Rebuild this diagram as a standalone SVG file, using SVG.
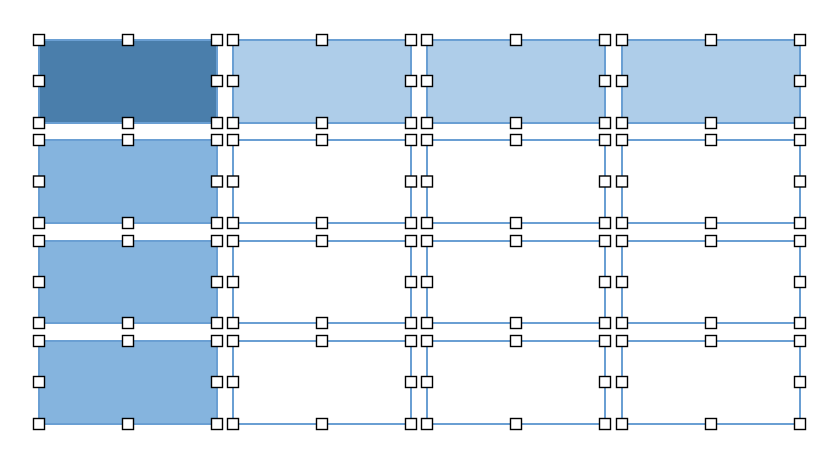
<svg xmlns="http://www.w3.org/2000/svg" width="836" height="460" viewBox="0 0 836 460">
<defs>
<style>
.c{stroke:#6a9fd3;stroke-width:2;fill:#ffffff}
.d{fill:#4a7eab}
.m{fill:#85b4de}
.l{fill:#aecde9}
.h{fill:#ffffff;stroke:#000000;stroke-width:1.4}
</style>
<g id="hs">
<rect class="h" x="-5.5" y="-5.5" width="11" height="11"/>
</g>
</defs>
<rect width="836" height="460" fill="#ffffff"/>
<g id="cells">
<g id="r0c0"><rect class="c d" x="39" y="40" width="178" height="83"/></g>
<g id="r0c1"><rect class="c l" x="233" y="40" width="178" height="83"/></g>
<g id="r0c2"><rect class="c l" x="427" y="40" width="178" height="83"/></g>
<g id="r0c3"><rect class="c l" x="622" y="40" width="178" height="83"/></g>
<g id="r1c0"><rect class="c m" x="39" y="140" width="178" height="83"/></g>
<g id="r1c1"><rect class="c" x="233" y="140" width="178" height="83"/></g>
<g id="r1c2"><rect class="c" x="427" y="140" width="178" height="83"/></g>
<g id="r1c3"><rect class="c" x="622" y="140" width="178" height="83"/></g>
<g id="r2c0"><rect class="c m" x="39" y="241" width="178" height="82"/></g>
<g id="r2c1"><rect class="c" x="233" y="241" width="178" height="82"/></g>
<g id="r2c2"><rect class="c" x="427" y="241" width="178" height="82"/></g>
<g id="r2c3"><rect class="c" x="622" y="241" width="178" height="82"/></g>
<g id="r3c0"><rect class="c m" x="39" y="341" width="178" height="83"/></g>
<g id="r3c1"><rect class="c" x="233" y="341" width="178" height="83"/></g>
<g id="r3c2"><rect class="c" x="427" y="341" width="178" height="83"/></g>
<g id="r3c3"><rect class="c" x="622" y="341" width="178" height="83"/></g>
</g>
<g id="handles">
<!-- row 0 -->
<use href="#hs" x="39" y="40"/><use href="#hs" x="128" y="40"/><use href="#hs" x="217" y="40"/>
<use href="#hs" x="39" y="81"/><use href="#hs" x="217" y="81"/>
<use href="#hs" x="39" y="123"/><use href="#hs" x="128" y="123"/><use href="#hs" x="217" y="123"/>
<use href="#hs" x="233" y="40"/><use href="#hs" x="322" y="40"/><use href="#hs" x="411" y="40"/>
<use href="#hs" x="233" y="81"/><use href="#hs" x="411" y="81"/>
<use href="#hs" x="233" y="123"/><use href="#hs" x="322" y="123"/><use href="#hs" x="411" y="123"/>
<use href="#hs" x="427" y="40"/><use href="#hs" x="516" y="40"/><use href="#hs" x="605" y="40"/>
<use href="#hs" x="427" y="81"/><use href="#hs" x="605" y="81"/>
<use href="#hs" x="427" y="123"/><use href="#hs" x="516" y="123"/><use href="#hs" x="605" y="123"/>
<use href="#hs" x="622" y="40"/><use href="#hs" x="711" y="40"/><use href="#hs" x="800" y="40"/>
<use href="#hs" x="622" y="81"/><use href="#hs" x="800" y="81"/>
<use href="#hs" x="622" y="123"/><use href="#hs" x="711" y="123"/><use href="#hs" x="800" y="123"/>
<!-- row 1 -->
<use href="#hs" x="39" y="140"/><use href="#hs" x="128" y="140"/><use href="#hs" x="217" y="140"/>
<use href="#hs" x="39" y="181.5"/><use href="#hs" x="217" y="181.5"/>
<use href="#hs" x="39" y="223"/><use href="#hs" x="128" y="223"/><use href="#hs" x="217" y="223"/>
<use href="#hs" x="233" y="140"/><use href="#hs" x="322" y="140"/><use href="#hs" x="411" y="140"/>
<use href="#hs" x="233" y="181.5"/><use href="#hs" x="411" y="181.5"/>
<use href="#hs" x="233" y="223"/><use href="#hs" x="322" y="223"/><use href="#hs" x="411" y="223"/>
<use href="#hs" x="427" y="140"/><use href="#hs" x="516" y="140"/><use href="#hs" x="605" y="140"/>
<use href="#hs" x="427" y="181.5"/><use href="#hs" x="605" y="181.5"/>
<use href="#hs" x="427" y="223"/><use href="#hs" x="516" y="223"/><use href="#hs" x="605" y="223"/>
<use href="#hs" x="622" y="140"/><use href="#hs" x="711" y="140"/><use href="#hs" x="800" y="140"/>
<use href="#hs" x="622" y="181.5"/><use href="#hs" x="800" y="181.5"/>
<use href="#hs" x="622" y="223"/><use href="#hs" x="711" y="223"/><use href="#hs" x="800" y="223"/>
<!-- row 2 -->
<use href="#hs" x="39" y="241"/><use href="#hs" x="128" y="241"/><use href="#hs" x="217" y="241"/>
<use href="#hs" x="39" y="282"/><use href="#hs" x="217" y="282"/>
<use href="#hs" x="39" y="323"/><use href="#hs" x="128" y="323"/><use href="#hs" x="217" y="323"/>
<use href="#hs" x="233" y="241"/><use href="#hs" x="322" y="241"/><use href="#hs" x="411" y="241"/>
<use href="#hs" x="233" y="282"/><use href="#hs" x="411" y="282"/>
<use href="#hs" x="233" y="323"/><use href="#hs" x="322" y="323"/><use href="#hs" x="411" y="323"/>
<use href="#hs" x="427" y="241"/><use href="#hs" x="516" y="241"/><use href="#hs" x="605" y="241"/>
<use href="#hs" x="427" y="282"/><use href="#hs" x="605" y="282"/>
<use href="#hs" x="427" y="323"/><use href="#hs" x="516" y="323"/><use href="#hs" x="605" y="323"/>
<use href="#hs" x="622" y="241"/><use href="#hs" x="711" y="241"/><use href="#hs" x="800" y="241"/>
<use href="#hs" x="622" y="282"/><use href="#hs" x="800" y="282"/>
<use href="#hs" x="622" y="323"/><use href="#hs" x="711" y="323"/><use href="#hs" x="800" y="323"/>
<!-- row 3 -->
<use href="#hs" x="39" y="341"/><use href="#hs" x="128" y="341"/><use href="#hs" x="217" y="341"/>
<use href="#hs" x="39" y="382"/><use href="#hs" x="217" y="382"/>
<use href="#hs" x="39" y="424"/><use href="#hs" x="128" y="424"/><use href="#hs" x="217" y="424"/>
<use href="#hs" x="233" y="341"/><use href="#hs" x="322" y="341"/><use href="#hs" x="411" y="341"/>
<use href="#hs" x="233" y="382"/><use href="#hs" x="411" y="382"/>
<use href="#hs" x="233" y="424"/><use href="#hs" x="322" y="424"/><use href="#hs" x="411" y="424"/>
<use href="#hs" x="427" y="341"/><use href="#hs" x="516" y="341"/><use href="#hs" x="605" y="341"/>
<use href="#hs" x="427" y="382"/><use href="#hs" x="605" y="382"/>
<use href="#hs" x="427" y="424"/><use href="#hs" x="516" y="424"/><use href="#hs" x="605" y="424"/>
<use href="#hs" x="622" y="341"/><use href="#hs" x="711" y="341"/><use href="#hs" x="800" y="341"/>
<use href="#hs" x="622" y="382"/><use href="#hs" x="800" y="382"/>
<use href="#hs" x="622" y="424"/><use href="#hs" x="711" y="424"/><use href="#hs" x="800" y="424"/>
</g>
</svg>
